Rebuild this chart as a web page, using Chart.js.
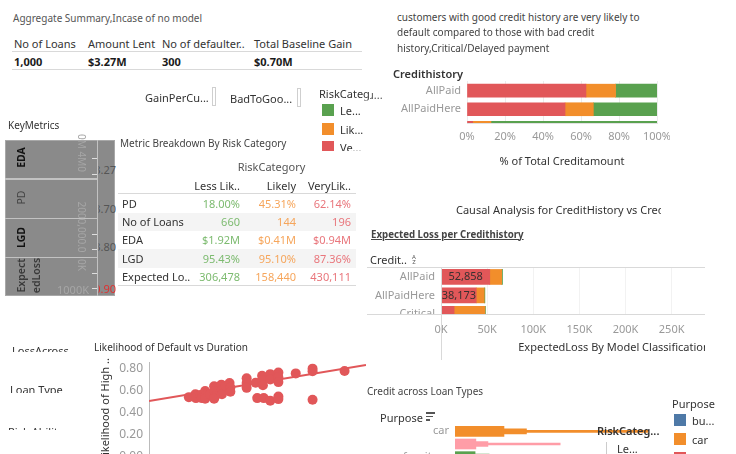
<!DOCTYPE html>
<html>
<head>
<meta charset="utf-8">
<script src="https://cdn.jsdelivr.net/npm/chart.js@4.4.0/dist/chart.umd.min.js"></script>
<style>
  html, body { margin: 0; padding: 0; width: 736px; height: 454px; overflow: hidden; background: #fff; }
  body { font-family: "Noto Sans", sans-serif; color: #333; position: relative; }
  .lbl { position: absolute; white-space: nowrap; }
  .box { position: absolute; }
</style>
</head>
<body>
<script>
// ---- data ----
const summaryHeaders = ['No of Loans', 'Amount Lent', 'No of defaulter..', 'Total Baseline Gain'];
const summaryValues = ['1,000', '$3.27M', '300', '$0.70M'];

const riskCategories = ['Less Lik..', 'Likely', 'VeryLik..'];
const metricRows = ['PD', 'No of Loans', 'EDA', ' LGD', 'Expected Lo..'];
const lessLikelyCol = ['18.00%', '660', '$1.92M', '95.43%', '306,478'];
const likelyCol = ['45.31%', '144', '$0.41M', '95.10%', '158,440'];
const veryLikelyCol = ['62.14%', '196', '$0.94M', '87.36%', '430,111'];

// % of total credit amount per credit history
const historyLabels = ['AllPaid', 'AllPaidHere', 'Critical'];
const shareVeryLikely = [62.6, 51.6, 3.0];
const shareLikely = [15.6, 14.9, 9.6];
const shareLessLikely = [21.8, 33.5, 87.4];

// expected loss per credit history
const lossVeryLikely = [52858, 38173, 14200];
const lossLikely = [12900, 8700, 33400];
const lossLessLikely = [900, 700, 600];

// likelihood of default vs duration
const durationMonths = [14.7, 17.1, 17.3, 18.9, 19.5, 20.7, 20.9, 20.7, 22.5, 24, 24, 24.3, 24, 26.7, 26.9, 26.9,
  28.3, 29.7, 30, 30, 36, 36, 36, 39.3, 41.7, 41.7, 42, 44.7, 44.7, 47.7, 47.7, 47.7, 54.1, 60.3, 60.3, 72.1,
  39.9, 42.3, 44.7, 47.7, 47.7, 60.3];
const defaultLikelihood = [0.542, 0.568, 0.533, 0.562, 0.533, 0.597, 0.557, 0.527, 0.565, 0.640, 0.597, 0.548, 0.527, 0.655, 0.614, 0.568,
  0.640, 0.670, 0.629, 0.591, 0.713, 0.670, 0.626, 0.672, 0.736, 0.692, 0.649, 0.750, 0.701, 0.765, 0.722, 0.678, 0.757, 0.800, 0.777, 0.779,
  0.533, 0.533, 0.510, 0.548, 0.524, 0.518];
const trendMonths = [0, 80];
const trendLikelihood = [0.507, 0.832];

// credit across loan types ($K)
const purposeLabels = ['car', 'TV', 'furniture'];
const creditLikely = [122, 52, 50];
const creditVeryLikely = [178, 82, 85];
const creditLessLikely = [480, 262, 210];

// ---- styles ----
const RED = '#e15759', ORANGE = '#f28e2b', GREEN = '#59a14f', BLUE = '#4e79a7', PINK = '#ff9da7';
const purposeColor = { car: ORANGE, TV: PINK, furniture: GREEN };
const TXT_GREEN = '#7dbb70', TXT_ORANGE = '#f6a65c', TXT_RED = '#e9767c';

Chart.defaults.font.family = '"Noto Sans", sans-serif';
Chart.defaults.color = '#999';

function rect(x, y, w, h, color, extra) {
  const d = document.createElement('div');
  d.className = 'box';
  d.style.cssText += `left:${x}px;top:${y}px;width:${w}px;height:${h}px;background:${color};` + (extra || '');
  document.body.appendChild(d);
}

function label(x, y, text, o = {}) {
  const size = o.size || 11, lh = Math.round(size * 1.4), W = 600;
  const el = document.createElement('div');
  el.className = 'lbl';
  el.textContent = text;
  let left = x;
  if (o.align === 'right') left = x - W;
  else if (o.align === 'center' || o.rot) left = x - W / 2;
  const top = y - lh / 2;
  Object.assign(el.style, {
    left: left + 'px', top: top + 'px', width: W + 'px',
    fontSize: size + 'px', lineHeight: lh + 'px',
    color: o.color || '#333', fontWeight: o.weight || 400,
    textAlign: o.align === 'right' ? 'right' : (o.align === 'center' || o.rot ? 'center' : 'left')
  });
  if (o.underline) el.style.textDecoration = 'underline';
  if (o.rot) el.style.transform = `rotate(${o.rot}deg)`;
  if (o.clip) {
    const [x0, y0, x1, y1] = o.clip;
    const t = Math.max(0, y0 - top), r = Math.max(0, left + W - x1),
          b = Math.max(0, top + lh - y1), l = Math.max(0, x0 - left);
    el.style.clipPath = `inset(${t}px ${r}px ${b}px ${l}px)`;
  }
  document.body.appendChild(el);
}

function makeCanvas(x, y, w, h, clipW) {
  const wrap = document.createElement('div');
  wrap.className = 'box';
  wrap.style.cssText += `left:${x}px;top:${y}px;width:${clipW || w}px;height:${h}px;overflow:hidden;`;
  const c = document.createElement('canvas');
  c.width = w; c.height = h;
  c.style.width = w + 'px'; c.style.height = h + 'px';
  wrap.appendChild(c);
  document.body.appendChild(wrap);
  return c;
}

// pin an axis to a fixed size and drop the label overhang padding
function fixSize(px) {
  return s => {
    if (s.isHorizontal()) s.height = px; else s.width = px;
    s.paddingLeft = s.paddingRight = s.paddingTop = s.paddingBottom = 0;
  };
}

const noPlugins = { legend: { display: false }, tooltip: { enabled: false } };

// ---- KeyMetrics grey block (behind its texts) ----
rect(5, 140, 110, 156, '#8a8a8a', 'box-sizing:border-box;border:1px solid #a8a8a8;');
[178, 217.5, 256.5].forEach(y => rect(5, y, 92, 1.5, '#c2c2c2'));
rect(96.5, 140, 1, 156, '#c2c2c2');
[157.7, 174.3, 234, 249.3, 272.7, 288.3].forEach(y => rect(92, y, 5, 1, '#dedede'));

// table bands / rules
rect(12, 50.5, 350, 1, '#d9d9d9');
rect(12, 69, 350, 1, '#d9d9d9');
rect(118, 212.5, 238, 18.5, '#f4f4f4');
rect(118, 249, 238, 18.5, '#f4f4f4');
rect(118, 192.5, 238, 1, '#d9d9d9');
rect(118, 285, 238, 1, '#d9d9d9');

// ---- chart 1: % of total credit amount ----
const c1 = makeCanvas(370, 70, 300, 102);
new Chart(c1, {
  type: 'bar',
  data: {
    datasets: [
      { data: shareVeryLikely.map((v, i) => ({ x: v, y: i })), backgroundColor: RED },
      { data: shareLikely.map((v, i) => ({ x: v, y: i })), backgroundColor: ORANGE },
      { data: shareLessLikely.map((v, i) => ({ x: v, y: i })), backgroundColor: GREEN }
    ]
  },
  options: {
    indexAxis: 'y', responsive: false, animation: false,
    layout: { padding: { top: 11, right: 13 } },
    plugins: noPlugins,
    datasets: { bar: { barThickness: 13 } },
    scales: {
      x: {
        type: 'linear', stacked: true, min: 0, max: 100,
        ticks: { stepSize: 20, callback: v => v + '%', color: '#999', font: { size: 11 }, padding: 7 },
        grid: { color: '#ececec', drawTicks: false },
        border: { color: '#e2e2e2' },
        title: { display: true, text: '% of Total Creditamount', color: '#333', font: { size: 11 } },
        afterFit: fixSize(49)
      },
      y: {
        type: 'linear', stacked: true, reverse: true, offset: false, min: -0.52, max: 1.74,
        afterBuildTicks: s => { s.ticks = historyLabels.map((_, i) => ({ value: i })).filter(t => t.value <= s.max); },
        ticks: { callback: v => historyLabels[v], color: '#999', font: { size: 11 }, padding: 6 },
        grid: { display: false, drawTicks: false, offset: false },
        border: { display: false },
        afterFit: fixSize(97)
      }
    }
  }
});

// ---- chart 2: expected loss per credit history ----
const clippedRowLabels = {
  id: 'clippedRowLabels',
  afterDraw(chart) {
    const { ctx, chartArea, scales } = chart;
    ctx.save();
    ctx.beginPath();
    ctx.rect(0, chartArea.top, chartArea.left, chartArea.bottom - chartArea.top);
    ctx.clip();
    ctx.font = '11px "Noto Sans"';
    ctx.fillStyle = '#999';
    ctx.textAlign = 'right';
    ctx.textBaseline = 'middle';
    historyLabels.forEach((t, i) => ctx.fillText(t, chartArea.left - 6, scales.y.getPixelForValue(i)));
    ctx.restore();
  }
};
const barValueLabels = {
  id: 'barValueLabels',
  afterDatasetsDraw(chart) {
    const { ctx, chartArea } = chart;
    const meta = chart.getDatasetMeta(0);
    ctx.save();
    ctx.beginPath();
    ctx.rect(chartArea.left, chartArea.top, chartArea.width, chartArea.height);
    ctx.clip();
    ctx.font = '11px "Noto Sans"';
    ctx.fillStyle = '#3a3030';
    ctx.textAlign = 'center';
    ctx.textBaseline = 'middle';
    meta.data.forEach((bar, i) => {
      const txt = lossVeryLikely[i].toLocaleString('en-US');
      if (ctx.measureText(txt).width > Math.abs(bar.x - bar.base) + 4) return;
      ctx.fillText(txt, (bar.x + bar.base) / 2, bar.y);
    });
    ctx.restore();
  }
};
const c2 = makeCanvas(367, 255, 420, 103, 338);
new Chart(c2, {
  type: 'bar',
  data: {
    datasets: [
      { data: lossVeryLikely.map((v, i) => ({ x: v, y: i })), backgroundColor: RED },
      { data: lossLikely.map((v, i) => ({ x: v, y: i })), backgroundColor: ORANGE },
      { data: lossLessLikely.map((v, i) => ({ x: v, y: i })), backgroundColor: GREEN }
    ]
  },
  options: {
    indexAxis: 'y', responsive: false, animation: false,
    layout: { padding: { top: 12 } },
    plugins: noPlugins,
    datasets: { bar: { barThickness: 15 } },
    scales: {
      x: {
        type: 'linear', stacked: true, min: 0, max: 375000,
        afterBuildTicks: s => { s.ticks = [0, 50000, 100000, 150000, 200000, 250000, 300000, 350000].map(v => ({ value: v })); },
        ticks: { callback: v => (v / 1000) + 'K', color: '#999', font: { size: 11 }, padding: 9 },
        grid: { color: '#f2f2f2', drawTicks: false },
        border: { display: false },
        title: { display: true, text: 'ExpectedLoss By Model Classification', color: '#333', font: { size: 11 } },
        afterFit: fixSize(44)
      },
      y: {
        type: 'linear', stacked: true, reverse: true, offset: false, min: -0.54, max: 2.01,
        ticks: { display: false },
        grid: { display: false, drawTicks: false, offset: false },
        border: { display: false },
        afterFit: fixSize(74)
      }
    }
  },
  plugins: [clippedRowLabels, barValueLabels]
});
rect(367, 266.5, 338, 1, '#d9d9d9');
rect(367, 314, 338, 1, '#d9d9d9');
rect(440.5, 267, 1, 93, '#d9d9d9');

// ---- chart 3: likelihood of default vs duration ----
const c3 = makeCanvas(96, 355, 275, 107, 274);
new Chart(c3, {
  type: 'scatter',
  data: {
    datasets: [
      {
        data: durationMonths.map((m, i) => ({ x: m, y: defaultLikelihood[i] })),
        backgroundColor: RED, borderColor: RED, borderWidth: 0, pointRadius: 5
      },
      {
        type: 'line',
        data: trendMonths.map((m, i) => ({ x: m, y: trendLikelihood[i] })),
        borderColor: RED, borderWidth: 2, pointRadius: 0, fill: false
      }
    ]
  },
  options: {
    responsive: false, animation: false,
    layout: { padding: { top: 7 } },
    plugins: noPlugins,
    scales: {
      x: { type: 'linear', display: false, min: 0, max: 80 },
      y: {
        min: 0, max: 0.86,
        afterBuildTicks: s => { s.ticks = [0, 0.2, 0.4, 0.6, 0.8].map(v => ({ value: v })); },
        ticks: { callback: v => v.toFixed(2), color: '#999', font: { size: 12 }, padding: 6 },
        grid: { display: false, drawTicks: false },
        border: { display: true, dash: [1, 2], color: '#bbb' },
        title: { display: true, text: 'Likelihood of High ..', color: '#333', font: { size: 11 }, padding: { top: 3, bottom: 0 } },
        afterFit: fixSize(53)
      }
    }
  }
});

// ---- chart 4: credit across loan types ----
const purposeFill = purposeLabels.map(p => purposeColor[p]);
const c4 = makeCanvas(380, 418, 356, 45);
new Chart(c4, {
  type: 'bar',
  data: {
    labels: purposeLabels,
    datasets: [
      { data: creditLikely, backgroundColor: purposeFill, barThickness: 10, grouped: false },
      { data: creditVeryLikely, backgroundColor: purposeFill, barThickness: 5, grouped: false },
      { data: creditLessLikely, backgroundColor: purposeFill, barThickness: 2, grouped: false }
    ]
  },
  options: {
    indexAxis: 'y', responsive: false, animation: false,
    layout: { padding: { top: 7 } },
    plugins: noPlugins,
    scales: {
      x: { display: false, min: 0, max: 700 },
      y: {
        ticks: { color: '#999', font: { size: 11 }, padding: 6 },
        grid: { display: false, drawTicks: false },
        border: { display: false },
        afterFit: fixSize(75)
      }
    }
  }
});

// ---- texts ----
// aggregate summary
label(13, 17.5, 'Aggregate Summary,Incase of no model', { size: 10, color: '#555' });
const sumX = [14, 88, 162, 254];
summaryHeaders.forEach((t, i) => label(sumX[i], 43.5, t, { size: 11 }));
summaryValues.forEach((t, i) => label(sumX[i], 61, t, { size: 11, weight: 700, color: '#1a1a1a' }));

// filters + risk legend
label(145, 97, 'GainPerCu...', { size: 11 });
rect(212, 87, 2, 17, '#fff', 'border:1px solid #cfcfcf;');
label(230, 98, 'BadToGoo...', { size: 11 });
rect(297, 88, 2, 17, '#fff', 'border:1px solid #cfcfcf;');
label(319, 93, 'RiskCategory', { size: 11, clip: [0, 0, 370, 454] });
rect(322, 104, 12, 12, GREEN);
rect(322, 122.7, 12, 12, ORANGE);
rect(322, 141, 12, 10, RED);
label(340, 110, 'Le...', { size: 11 });
label(340, 129, 'Lik...', { size: 11 });
label(340, 147.5, 'Ve...', { size: 11, clip: [0, 0, 736, 151] });

// key metrics block
label(8, 124.5, 'KeyMetrics', { size: 10 });
label(20.7, 157, 'EDA', { size: 10.5, rot: -90, weight: 700, color: '#111' });
label(20.7, 197, 'PD', { size: 10.5, rot: -90, color: '#444' });
label(20.7, 237, 'LGD', { size: 10.5, rot: -90, weight: 700, color: '#111' });
label(20.5, 275, 'Expect', { size: 10.5, rot: -90, weight: 600, color: '#3a3a3a' });
label(35.5, 275.5, 'edLoss', { size: 10.5, rot: -90, weight: 600, color: '#3a3a3a' });
label(81.7, 153, '0M  4M0', { size: 10, rot: 90, color: '#a6a6a6' });
label(81.7, 227, '2000,000.0', { size: 10, rot: 90, color: '#a6a6a6' });
label(81.7, 264.5, '0K', { size: 10, rot: 90, color: '#a6a6a6' });
label(57, 289, '1000K', { size: 11, color: '#a6a6a6' });
const kmClip = [98.5, 140, 116, 296];
label(116, 169, '3.27', { size: 11, align: 'right', color: '#555', clip: kmClip });
label(116, 208.3, '3.70', { size: 11, align: 'right', color: '#555', clip: kmClip });
label(116, 246.7, '3.80', { size: 11, align: 'right', color: '#555', clip: kmClip });
label(116, 288.5, '0.90', { size: 11, align: 'right', color: '#e0302f', clip: kmClip });

// metric breakdown table
label(120, 142.7, 'Metric Breakdown By Risk Category', { size: 10, color: '#444' });
label(271.5, 166.7, 'RiskCategory', { size: 11, color: '#555', align: 'center' });
const colRight = [240, 296, 351];
riskCategories.forEach((t, i) => label(colRight[i], 185, t, { size: 11, align: 'right' }));
const rowY = [203.3, 221.7, 239.8, 258, 276.7];
metricRows.forEach((t, i) => label(122, rowY[i], t, { size: 11 }));
lessLikelyCol.forEach((t, i) => label(colRight[0], rowY[i], t, { size: 11, align: 'right', color: TXT_GREEN }));
likelyCol.forEach((t, i) => label(colRight[1], rowY[i], t, { size: 11, align: 'right', color: TXT_ORANGE }));
veryLikelyCol.forEach((t, i) => label(colRight[2], rowY[i], t, { size: 11, align: 'right', color: TXT_RED }));

// top right note + chart 1 header
label(397, 16.7, 'customers with good credit history are very likely to', { size: 10, color: '#444' });
label(397, 32.3, 'default compared to those with bad credit', { size: 10, color: '#444' });
label(397, 47.7, 'history,Critical/Delayed payment', { size: 10, color: '#444' });
label(393, 73.3, 'Credithistory', { size: 11, weight: 600 });
label(367, 94.3, 'u...', { size: 11, color: '#555', clip: [370, 0, 736, 454] });

// chart 2 header
label(456, 209.3, 'Causal Analysis for CreditHistory vs Creditamount', { size: 11, clip: [0, 0, 661, 454] });
label(371, 234.5, 'Expected Loss per Credithistory', { size: 9.7, weight: 700, color: '#444', underline: true });
label(370, 259, 'Credit..', { size: 11 });
label(414, 256.8, 'A', { size: 6, align: 'center', color: '#555' });
label(414, 262, 'Z', { size: 6, align: 'center', color: '#555' });

// bottom left
label(12, 350.5, 'LossAcross', { size: 11, clip: [0, 340, 370, 352] });
label(10, 389.8, 'Loan Type', { size: 11, clip: [0, 380, 370, 393] });
label(8, 431, 'Risk Ability', { size: 11, clip: [0, 420, 370, 430] });
label(94, 346.7, 'Likelihood of Default vs Duration', { size: 10 });

// bottom right
label(367, 391, 'Credit across Loan Types', { size: 10, color: '#444' });
label(380, 417, 'Purpose', { size: 11 });
rect(426, 412, 9, 1.5, '#555');
rect(426, 415.5, 7, 1.5, '#555');
rect(426, 419, 4, 1.5, '#555');
label(597, 430, 'RiskCateg...', { size: 11, weight: 600 });
rect(606, 441.5, 1, 13, '#cccccc');
label(617, 448, 'Le...', { size: 11 });
label(672, 403.3, 'Purpose', { size: 11 });
rect(674, 414, 12, 12, BLUE);
rect(674, 433, 12, 12, ORANGE);
rect(674, 452, 12, 12, RED);
label(692, 420, 'bu...', { size: 11 });
label(692, 439, 'car', { size: 11 });
</script>
</body>
</html>
